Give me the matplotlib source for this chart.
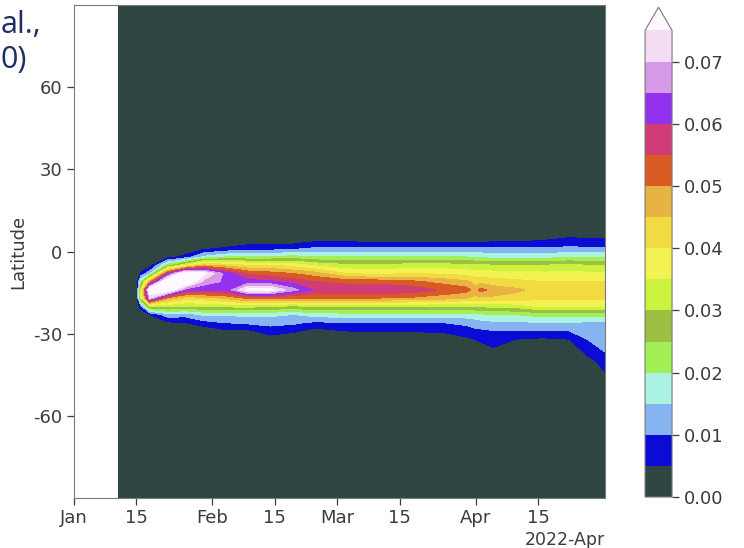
import numpy as np
import pandas as pd
import matplotlib
matplotlib.use("Agg")   # headless
import matplotlib.pyplot as plt
import matplotlib.dates as mdates

plt.rcParams["axes.unicode_minus"] = False

# ─────────────────────────────────────────────── data

dates = pd.to_datetime([
    "2022-01-11", "2022-01-15", "2022-01-16", "2022-01-18", "2022-01-22",
    "2022-01-26", "2022-01-30", "2022-02-04", "2022-02-09", "2022-02-14",
    "2022-02-19", "2022-02-24", "2022-03-03", "2022-03-10", "2022-03-18",
    "2022-03-25", "2022-03-30", "2022-04-01", "2022-04-02", "2022-04-05",
    "2022-04-10", "2022-04-16", "2022-04-22", "2022-04-26", "2022-04-30",
])

lats = [10, 7, 4, 1, -2, -5, -8, -11, -14, -17, -20, -23, -26, -29, -32, -36, -40, -44, -48]

# one profile per date, values along `lats`
profiles = [
    [0, 0, 0, 0, 0, 0, 0, 0, 0, 0, 0, 0, 0, 0, 0, 0, 0, 0, 0],
    [0, 0, 0, 0, 0, 0, 0, 0, 0, 0, 0, 0, 0, 0, 0, 0, 0, 0, 0],
    [0, 0, 0, 0, 0, 0, 0.006, 0.020, 0.032, 0.030, 0.008, 0, 0, 0, 0, 0, 0, 0, 0],
    [0, 0, 0, 0, 0, 0.002, 0.014, 0.048, 0.082, 0.070, 0.030, 0.005, 0, 0, 0, 0, 0, 0, 0],
    [0, 0, 0, 0, 0.003, 0.022, 0.058, 0.085, 0.082, 0.048, 0.031, 0.013, 0.004, 0, 0, 0, 0, 0, 0],
    [0, 0, 0, 0, 0.007, 0.034, 0.082, 0.085, 0.062, 0.042, 0.030, 0.012, 0.005, 0, 0, 0, 0, 0, 0],
    [0, 0, 0, 0.004, 0.016, 0.046, 0.077, 0.068, 0.061, 0.043, 0.030, 0.016, 0.008, 0.001, 0, 0, 0, 0, 0],
    [0, 0, 0, 0.006, 0.020, 0.043, 0.063, 0.064, 0.061, 0.046, 0.031, 0.016, 0.010, 0.004, 0, 0, 0, 0, 0],
    [0, 0, 0.002, 0.008, 0.020, 0.040, 0.054, 0.062, 0.077, 0.051, 0.032, 0.016, 0.011, 0.004, 0, 0, 0, 0, 0],
    [0, 0, 0.002, 0.008, 0.020, 0.040, 0.052, 0.061, 0.077, 0.051, 0.030, 0.016, 0.012, 0.007, 0.003, 0, 0, 0, 0],
    [0, 0, 0.002, 0.009, 0.022, 0.038, 0.050, 0.058, 0.067, 0.050, 0.029, 0.015, 0.011, 0.006, 0.001, 0, 0, 0, 0],
    [0, 0, 0.004, 0.011, 0.020, 0.034, 0.047, 0.055, 0.0595, 0.050, 0.030, 0.017, 0.009, 0.003, 0, 0, 0, 0, 0],
    [0, 0, 0.004, 0.011, 0.020, 0.031, 0.040, 0.053, 0.0595, 0.050, 0.030, 0.018, 0.010, 0.005, 0, 0, 0, 0, 0],
    [0, 0, 0.003, 0.011, 0.0205, 0.031, 0.038, 0.053, 0.0595, 0.050, 0.030, 0.018, 0.0095, 0.0055, 0, 0, 0, 0, 0],
    [0, 0, 0.003, 0.011, 0.020, 0.032, 0.040, 0.051, 0.058, 0.049, 0.030, 0.018, 0.010, 0.0055, 0, 0, 0, 0, 0],
    [0, 0, 0.003, 0.011, 0.020, 0.032, 0.039, 0.048, 0.054, 0.047, 0.030, 0.018, 0.010, 0.006, 0.001, 0, 0, 0, 0],
    [0, 0, 0.003, 0.011, 0.020, 0.031, 0.038, 0.046, 0.052, 0.045, 0.030, 0.018, 0.011, 0.008, 0.004, 0, 0, 0, 0],
    [0, 0, 0.003, 0.011, 0.019, 0.031, 0.037, 0.043, 0.047, 0.044, 0.030, 0.019, 0.012, 0.009, 0.005, 0.001, 0, 0, 0],
    [0, 0, 0.003, 0.011, 0.019, 0.031, 0.037, 0.043, 0.052, 0.044, 0.031, 0.019, 0.013, 0.009, 0.006, 0.002, 0, 0, 0],
    [0, 0, 0.004, 0.011, 0.018, 0.030, 0.037, 0.042, 0.048, 0.044, 0.031, 0.020, 0.014, 0.0098, 0.008, 0.004, 0, 0, 0],
    [0, 0, 0.004, 0.011, 0.018, 0.030, 0.037, 0.041, 0.046, 0.043, 0.032, 0.020, 0.014, 0.010, 0.005, 0, 0, 0, 0],
    [0, 0.001, 0.005, 0.011, 0.018, 0.030, 0.036, 0.040, 0.043, 0.041, 0.036, 0.022, 0.015, 0.010, 0.004, 0, 0, 0, 0],
    [0, 0.002, 0.0066, 0.011, 0.0195, 0.031, 0.036, 0.040, 0.042, 0.041, 0.035, 0.022, 0.015, 0.010, 0.005, 0.001, 0, 0, 0],
    [0, 0.002, 0.006, 0.011, 0.019, 0.030, 0.036, 0.040, 0.042, 0.041, 0.035, 0.022, 0.014, 0.012, 0.010, 0.007, 0.003, 0, 0],
    [0, 0.002, 0.006, 0.011, 0.019, 0.030, 0.036, 0.040, 0.042, 0.041, 0.035, 0.022, 0.014, 0.013, 0.012, 0.0105, 0.007, 0.005, 0],
]

levels = [0.000, 0.005, 0.010, 0.015, 0.020, 0.025, 0.030, 0.035, 0.040,
          0.045, 0.050, 0.055, 0.060, 0.065, 0.070, 0.075]
band_colors = [
    "#2f4541", "#0b0bd6", "#86b4f0", "#acf2e2", "#a2f055", "#9dc043",
    "#cbf23f", "#f2f252", "#f1da42", "#e8b244", "#d95a22", "#d03d76",
    "#9232ee", "#d79ae8", "#f5dcf5",
]
over_color = "#fff8ff"
cbar_ticks = [0.00, 0.01, 0.02, 0.03, 0.04, 0.05, 0.06, 0.07]
xlim = ["2022-01-01", "2022-04-30"]
yticks = [-60, -30, 0, 30, 60]

# ─────────────────────────────────────────────── figure

TXT = "#3c3c3c"
SPINE = "#7a7a7a"

fig = plt.figure(figsize=(7.44, 5.48), dpi=100)
ax = fig.add_axes([0.0995, 0.0912, 0.7137, 0.8997])
cax = fig.add_axes([0.867, 0.093, 0.0363, 0.894])

lat_full = np.array([90] + lats + [-90], dtype=float)
z = np.array(profiles, dtype=float).T
z = np.vstack([np.zeros(len(dates)), z, np.zeros(len(dates))])

xnum = mdates.date2num(dates)
cs = ax.contourf(xnum, lat_full, z, levels=levels,
                 colors=band_colors + [over_color], extend="max")

ax.set_facecolor("white")
ax.set_ylim(-90, 90)
ax.set_xlim(mdates.datestr2num(xlim[0]), mdates.datestr2num(xlim[1]))
ax.set_yticks(yticks)
ax.set_ylabel("Latitude", fontsize=13, color=TXT)

loc = mdates.DayLocator(bymonthday=[1, 15])
ax.xaxis.set_major_locator(loc)
ax.xaxis.set_major_formatter(mdates.ConciseDateFormatter(loc))
ax.xaxis.get_offset_text().set_color(TXT)
ax.xaxis.get_offset_text().set_fontsize(12.5)

ax.tick_params(labelsize=13, colors=TXT, length=5, width=0.9)
ax.tick_params(axis="x", pad=3)
for sp in ax.spines.values():
    sp.set_edgecolor(SPINE)

cbar = fig.colorbar(cs, cax=cax, ticks=cbar_ticks, format="%.2f")
cbar.outline.set_edgecolor(SPINE)
cax.tick_params(labelsize=13, colors=TXT, length=5, width=0.9)

# slide text fragments at top-left
fig.text(0.001, 0.982, "al.,", ha="left", va="top", fontsize=22,
         color="#1f2f66", family="Open Sans")
fig.text(0.001, 0.918, "0)", ha="left", va="top", fontsize=22,
         color="#1f2f66", family="Open Sans")

fig.savefig("out.png", dpi=100)
plt.close(fig)
